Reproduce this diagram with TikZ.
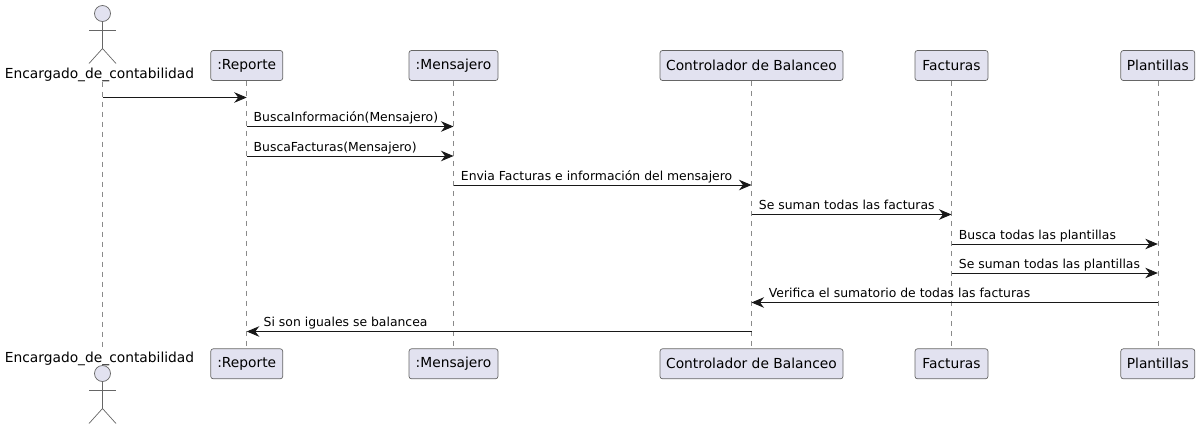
\documentclass[tikz,border=0pt]{standalone}
\usepackage{fontspec}
\setmainfont{DejaVu Sans}
\usetikzlibrary{arrows.meta}
\definecolor{partfill}{HTML}{E2E2F0}
\definecolor{partline}{HTML}{666666}
\definecolor{msgline}{HTML}{181818}
\definecolor{actline}{HTML}{666666}
\definecolor{lifeline}{HTML}{8A8A8A}
\tikzset{
  x=1pt,y=-1pt,
  part/.style={draw=partline,fill=partfill,rounded corners=2.5pt,line width=0.7pt,minimum height=30pt,inner sep=0pt,font=\fontsize{13.8}{16}\selectfont},
  actorname/.style={inner sep=0pt,font=\fontsize{13.8}{16}\selectfont},
  actorline/.style={draw=actline,line width=0.7pt},
  life/.style={draw=lifeline,line width=0.6pt,dash pattern=on 5pt off 5pt},
  msg/.style={draw=msgline,line width=0.9pt,-{Stealth[length=12.5pt,width=10.5pt,inset=4pt]}},
  msglabel/.style={anchor=base west,inner sep=0pt,font=\fontsize{12.4}{14}\selectfont,text=black}
}
\newcommand{\actorfig}[3]{% name, x, head centre y
  \node[circle,draw=actline,fill=partfill,line width=0.7pt,minimum size=16pt,inner sep=0pt] (#1) at (#2,#3) {};
  \draw[actorline] (#1.south) -- ++(0,27) ++(-13.5,-19) -- ++(27,0);
  \draw[actorline] (#2-13.5,#3+50) -- (#2,#3+35) -- (#2+13.5,#3+50);
}
\begin{document}
\begin{tikzpicture}
\useasboundingbox (0,0) rectangle (1200,429);
% top participants
\actorfig{acthead}{102.5}{13.5}
\node[actorname] (act) at (99.5,74.5) {Encargado\_de\_contabilidad};
\node[part,minimum width=72pt] (rep) at (246.75,65.5) {:Reporte};
\node[part,minimum width=89pt] (men) at (453.5,65.5) {:Mensajero};
\node[part,minimum width=183pt] (con) at (751.5,65.5) {Controlador de Balanceo};
\node[part,minimum width=73pt] (fac) at (951.5,65.5) {Facturas};
\node[part,minimum width=74pt] (pla) at (1157.8,65.5) {Plantillas};
% bottom participants
\node[actorname] (actb) at (99.5,358.5) {Encargado\_de\_contabilidad};
\actorfig{actheadb}{102.5}{373.5}
\node[part,minimum width=72pt] (repb) at (246.75,363.8) {:Reporte};
\node[part,minimum width=89pt] (menb) at (453.5,363.8) {:Mensajero};
\node[part,minimum width=183pt] (conb) at (751.5,363.8) {Controlador de Balanceo};
\node[part,minimum width=73pt] (facb) at (951.5,363.8) {Facturas};
\node[part,minimum width=74pt] (plab) at (1157.8,363.8) {Plantillas};
% lifelines
\coordinate (lt) at (102.5,81.5);
\coordinate (lb) at (102.5,347.5);
\draw[life] (lt) -- (lb);
\draw[life] (rep.south) -- (repb.north);
\draw[life] (men.south) -- (menb.north);
\draw[life] (con.south) -- (conb.north);
\draw[life] (fac.south) -- (facb.north);
\draw[life] (pla.south) -- (plab.north);
% row coordinates
\foreach \n/\y in {1/97.5,2/126.5,3/156,4/185,5/214.5,6/244,7/273,8/302.5,9/331.5}
  \coordinate (r\n) at (0,\y);
% messages
\draw[msg] (lt |- r1) -- (rep.south |- r1);
\draw[msg] (rep.south |- r2) -- node[msglabel,at start,xshift=6.5pt,yshift=4.6pt] {BuscaInformación(Mensajero)} (men.south |- r2);
\draw[msg] (rep.south |- r3) -- node[msglabel,at start,xshift=6.5pt,yshift=4.6pt] {BuscaFacturas(Mensajero)} (men.south |- r3);
\draw[msg] (men.south |- r4) -- node[msglabel,at start,xshift=7pt,yshift=4.6pt] {Envia Facturas e información del mensajero} (con.south |- r4);
\draw[msg] (con.south |- r5) -- node[msglabel,at start,xshift=7pt,yshift=4.6pt] {Se suman todas las facturas} (fac.south |- r5);
\draw[msg] (fac.south |- r6) -- node[msglabel,at start,xshift=7pt,yshift=4.6pt] {Busca todas las plantillas} (pla.south |- r6);
\draw[msg] (fac.south |- r7) -- node[msglabel,at start,xshift=7pt,yshift=4.6pt] {Se suman todas las plantillas} (pla.south |- r7);
\draw[msg] (pla.south |- r8) -- (con.south |- r8) node[msglabel,at end,xshift=17pt,yshift=4.6pt] {Verifica el sumatorio de todas las facturas};
\draw[msg] (con.south |- r9) -- (rep.south |- r9) node[msglabel,at end,xshift=16.5pt,yshift=4.6pt] {Si son iguales se balancea};
\end{tikzpicture}
\end{document}
